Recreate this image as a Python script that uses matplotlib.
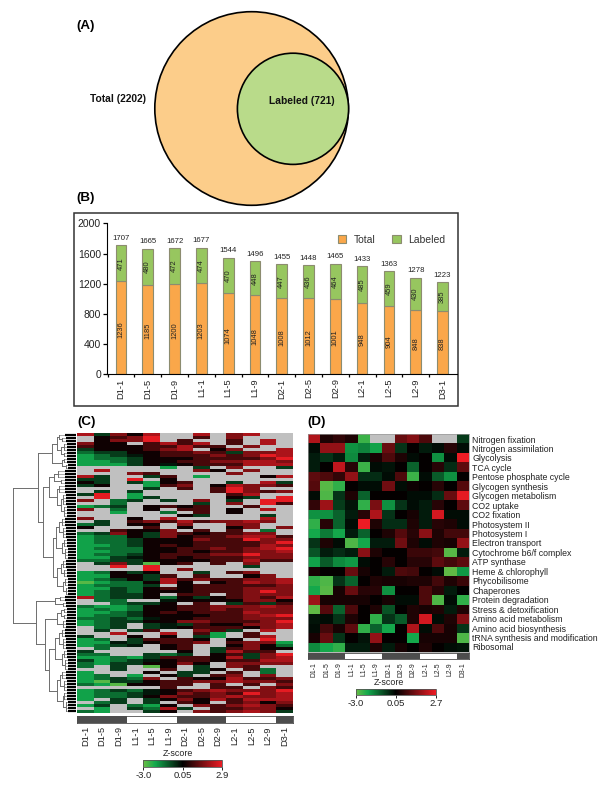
import numpy as np
import matplotlib
matplotlib.use('Agg')
import matplotlib.pyplot as plt
from matplotlib.cm import ScalarMappable
from matplotlib.colors import LinearSegmentedColormap, TwoSlopeNorm
from matplotlib.patches import Circle, Rectangle

plt.rcParams['font.family'] = ['Liberation Sans', 'DejaVu Sans']

W, H = 600, 800

samples = ['D1-1', 'D1-5', 'D1-9', 'L1-1', 'L1-5', 'L1-9', 'D2-1', 'D2-5', 'D2-9', 'L2-1', 'L2-5', 'L2-9', 'D3-1']
total = [1236, 1185, 1200, 1203, 1074, 1048, 1008, 1012, 1001, 948, 904, 848, 838]
labeled = [471, 480, 472, 474, 470, 448, 447, 436, 464, 485, 459, 430, 385]
bar_tops = [1707, 1665, 1672, 1677, 1544, 1496, 1455, 1448, 1465, 1433, 1363, 1278, 1223]

# light/dark blocks under the heatmaps
strip_groups = [3, 3, 3, 3, 1]

# panel D, z-scores by pathway, nan = grey cell
pathways = ['Nitrogen fixation', 'Nitrogen assimilation', 'Glycolysis', 'TCA cycle', 'Pentose phosphate cycle',
            'Glycogen synthesis', 'Glycogen metabolism', 'CO2 uptake', 'CO2 fixation', 'Photosystem II',
            'Photosystem I', 'Electron transport', 'Cytochrome b6/f complex', 'ATP synthase', 'Heme & chlorophyll',
            'Phycobilisome', 'Chaperones', 'Protein degradation', 'Stress & detoxification',
            'Amino acid metabolism', 'Amino acid biosynthesis', 'tRNA synthesis and modification', 'Ribosomal']
nan = np.nan
pathway_z = [
    [2.0, 0.4, 0.6, 0.4, -2.5, nan, nan, 1.2, 1.5, 0.9, nan, nan, -0.7],
    [-0.1, 1.7, 1.7, -1.8, -1.6, -2.0, 1.2, -0.6, 0.1, -0.3, -0.1, 0.5, -0.1],
    [-0.3, -0.6, -0.3, -1.7, -0.3, 0.3, 0.9, 0.4, -0.1, 0.1, -1.8, -0.1, 2.7],
    [-0.3, 0.1, 2.2, 0.5, -2.5, -0.1, -0.2, 0.1, -1.2, 0.1, 0.5, -0.5, 1.1],
    [1.1, 0.9, 0.6, 1.7, -0.5, -0.5, -0.1, 0.9, -2.5, -0.1, -1.1, -1.8, 0.1],
    [1.0, -2.8, -2.4, 0.1, -0.1, -0.1, 1.3, -0.1, 0.2, 0.1, 0.5, 0.1, 1.0],
    [-0.1, -2.7, -0.6, 0.4, -1.2, 0.1, 0.1, 0.1, -0.1, -0.1, -0.5, 1.2, 2.6],
    [0.6, 1.8, -0.7, -0.2, -2.4, 1.4, -1.8, -0.6, -0.1, -0.3, 0.5, 0.1, 1.1],
    [-1.8, -1.8, -1.2, -0.3, 0.5, 2.0, -0.6, 0.1, 0.3, -0.3, 2.4, -0.1, -0.1],
    [-2.4, 0.5, -1.2, -0.1, 2.7, 0.4, -0.5, -0.5, 0.4, -0.3, 0.5, 0.4, -0.1],
    [-2.1, -1.5, -2.1, -0.3, -1.2, 0.1, 0.4, 1.0, 0.5, 1.6, 0.4, 0.8, 0.8],
    [-0.6, 0.4, -0.1, -2.7, -2.1, -0.3, -0.3, 1.3, 0.4, -0.1, 0.4, 0.3, 1.7],
    [-1.0, -0.3, -0.5, -0.3, 1.6, 0.4, 0.1, 0.1, 0.7, 0.7, 0.8, -2.8, -0.3],
    [-2.0, -1.1, -1.7, -1.9, -0.1, 0.1, 0.5, 0.1, 0.5, 0.5, 1.1, 0.8, 1.1],
    [0.3, 0.1, 0.1, 1.2, 0.3, 0.1, -0.3, 0.9, 0.8, 0.1, -0.1, -2.9, -1.9],
    [-2.4, -2.7, -0.6, -1.2, 0.1, 0.4, 0.3, 0.3, 0.4, 0.4, 0.8, 0.4, 0.7],
    [-2.1, -2.8, 0.3, 1.2, 0.5, 0.5, -1.8, 0.1, 0.1, 0.9, 0.5, -0.3, 0.05],
    [1.8, 0.3, 0.3, 0.3, 0.3, 0.1, 0.3, -0.1, -0.1, 0.9, -2.7, -0.1, -2.4],
    [-2.9, 1.0, -1.2, 0.9, 0.1, 0.4, -1.0, 0.1, 0.4, 0.3, 0.4, -0.3, 0.4],
    [-0.2, -0.1, -0.6, 0.4, 0.1, -2.4, -0.6, -1.1, 0.4, 2.4, -0.1, 0.4, 1.5],
    [-0.1, 0.8, 0.3, 1.1, -2.4, -1.2, -2.1, 0.1, 2.0, -0.1, 0.9, 0.3, -0.6],
    [0.3, 1.2, -0.6, 0.1, -0.2, 1.7, 0.1, 0.1, -2.1, 0.3, 0.3, 0.3, -2.7],
    [-1.7, -2.1, -2.4, -0.3, -0.3, 0.4, -0.3, 0.3, 0.1, 0.4, 0.1, -0.1, -0.2],
]

# panel C, too many rows to keep as floats, one letter per cell
z_codes = {'L': -2.8, 'G': -2.0, 'g': -1.35, 'd': -0.7, 'e': -0.25, 'k': 0.25,
           'm': 0.9, 'n': 1.6, 'r': 2.1, 'R': 2.8, '.': nan}
protein_rows = [
    'rdnkr..r.nr..', '.kmnR..m.n...', '.knnR.m..m.r.', 'nkk.mrmr.m.r.', 'mkkkmmrmm.n..',
    'dkkkmnr.kn..r', 'gddkkmmnmdnnr', 'GgdekmmmnmnRr', 'GggdkkkmmmmnR', 'GGgdkkmmnnrrn',
    'GGGdkekmmmrrr', '.....G.d.n..d', '.r.....nk.n..', '...nm....n...', 'rd..dm.G...kr',
    'dd.R.k.......', 'kd.dGkm..d.rd', 'dk..Gmn.krnnm', '....d.m.mRn..', '.d.d....mRnmn',
    'dR.G.....mr..', '.R.Gd....kd.R', 'n.gd.d.n.d.RR', '..g....d.n.Rm', 'Ggd.kmkm..m..',
    'n.g.k.mm.k.r.', '..G..g.m.k...', '......kd...d.', 'n..k.r.....r.', '.d.mnmrmnnrn.',
    'gd.kk.n..nn..', 'k...m.k..kn.n', '..mkkn.m.m.g.', 'gdnkdnmkmmnn.', 'Gggkdnkmmnrrm',
    'GggdkkknmmRnn', 'GggdkkkmmmmnR', 'GGgdkmkmmmmrn', 'GgggkkmmnmnrR', 'GGggkkmkmmnnr',
    'GggdkmmmnnRnn', 'GGdekmkmmmnnn', 'ggddkkkkmmrmm', '.dndLkm.m.n..', '..R.R.....d..',
    '....R.n......', 'Ggkdk..d.mn..', 'GGkkdm.m..kn.', 'Ggdkdrmnmmnnr', 'LGggkrk.kmrnr',
    'Ggggd.kmmmmmn', 'GGdgkmkmmmnnn', 'GgdgkkkmmmnRn', 'Ggddk.mm.mnnn', 'rgddkgkdkmnmr',
    '.gg..ekkkknnk', '..gddk.m.dmdm', 'gGGgkkmmnnnrn', 'GgGgkkmmnmnnn', 'GGgdkmkmmmrnn',
    'GggdkkkkmmnrR', 'ggdgekkmmmnnn', 'GgddkknnmmmnR', 'Ggd.dedmkknnr', '.gd.dekmmmknr',
    '.d.dm..nmd.r.', '..r..r.mG.m..', 'd..k.k.dG.mr.', 'Gg.dmmmk.k.R.', 'GGedkmmn.mnnG',
    'Ggde.km..knkg', '.g...km.dmnkk', 'd.....k.drmm.', 'gg..dgd.kmdnR', 'GGgGdmmmkrdnr',
    'dGgdekmmkmmrr', 'gGddkknk.nnnn', 'g.d.Lk.d.nm..', '..d..m.dk.mg.', 'G...k.dd.m.g.',
    'Gg.G.kd.mn.n.', 'Ggdgn.mkkrmmn', 'GLddkmmnnrnnm', 'gGLkkmm.m.m.n', '.....m..mm.nm',
    'GgdgekmnrnnnR', 'GggdeknmnmRnr', 'Gggdknmmnrnnr', 'G.d.dknkrmrrr', '.gd.d.mk.mnkn',
    'Gd.gGk.nmnrnm', '.G.dgrd.mmnnk', 'gG..dk.nmnrnd',
]

# dendrogram of panel C: [distance, children...], an int is that many rows
dendro_a = [0.38, [0.30, [0.26, 1, [0.21, 1, 1]], [0.24, [0.19, 2, 1], [0.18, 1, 1]]],
            [0.22, [0.18, 1, 1], [0.16, 1, 1]]]
dendro_b = [0.43, [0.34, [0.28, 2, 1], [0.24, 1, 1]],
            [0.30, [0.27, 2, 1], [0.24, [0.20, 2, 2], [0.19, 2, 2]]]]
dendro_c = [0.31, [0.26, [0.22, 1, 2], [0.20, 2, 2]], [0.22, [0.18, 2, 1], [0.17, 2, 2]]]
dendro_d = [0.30, [0.24, [0.20, 1, 2], [0.18, 1, 2]], [0.20, [0.17, 2, 1], [0.16, 1, 2]]]
dendro_e1 = [0.33, [0.25, 1, 1], [0.20, 1, 1]]
dendro_e2 = [0.30, [0.24, [0.19, 1, 1], [0.18, 1, 1]], [0.20, 1, 2]]
dendro_f = [0.33, [0.27, [0.22, 1, 2], [0.20, 2, 2]], [0.22, [0.18, 2, 1], [0.17, 2, 2]]]
dendro_g = [0.30, [0.25, [0.21, 1, 2], [0.19, 2, 2]], [0.20, [0.18, 2, 1], [0.16, 2, 2]]]
dendro_tree = [1.0,
               [0.60, dendro_a, [0.52, dendro_b, [0.36, dendro_c, dendro_d]]],
               [0.63, dendro_e1, [0.49, dendro_e2, [0.43, dendro_f, dendro_g]]]]

c_ticks = [-3.0, 0.05, 2.9]
d_ticks = [-3.0, 0.05, 2.7]


def px_axes(x0, y0, x1, y1):
    # axes from picture pixels, y counted from the top
    return fig.add_axes([x0 / W, 1 - y1 / H, (x1 - x0) / W, (y1 - y0) / H])


def label_px(x, y, s, **kw):
    fig.text(x / W, 1 - y / H, s, va='center', **kw)


fig = plt.figure(figsize=(6, 8), dpi=100)

heat_cmap = LinearSegmentedColormap.from_list('gkr', [(0, '#6abd45'), (0.15, '#12a84c'), (0.5, '#000000'), (1, '#ed1c24')])
heat_cmap.set_bad('#c0c0c0')

# (A) venn
ax = px_axes(0, 0, W, 215)
ax.set_xlim(0, W)
ax.set_ylim(215, 0)
ax.axis('off')
ax.add_patch(Circle((251.6, 108.5), 96.8, fc='#fccd8a', ec='black', lw=1.2))
ax.add_patch(Circle((293, 108.8), 55.6, fc='#b9db8a', ec='black', lw=1.2))
label_px(89.5, 99, 'Total (2202)', fontweight='bold', fontsize=7.4, color='#111111')
label_px(269, 100.5, 'Labeled (721)', fontweight='bold', fontsize=7.4, color='#111111')
label_px(76.5, 25.5, '(A)', fontweight='bold', fontsize=9.6)
label_px(76.5, 198.5, '(B)', fontweight='bold', fontsize=9.6)

# (B) stacked bars
fig.add_artist(Rectangle((73.5 / W, 1 - 406 / H), 385 / W, 193 / H, transform=fig.transFigure,
                         fc='white', ec='#333333', lw=1.1, zorder=-1))
ax = px_axes(107.3, 223.3, 456.7, 374.3)
ax.patch.set_alpha(0)
xpos = np.arange(len(samples))
ax.bar(xpos, total, 0.4, color='#faa74a', edgecolor='#8c8c70', lw=0.8, label='Total')
ax.bar(xpos, labeled, 0.4, bottom=total, color='#97c65f', edgecolor='#8c8c70', lw=0.8, label='Labeled')
for i in xpos:
    ax.text(i, bar_tops[i] + 45, str(bar_tops[i]), ha='center', va='bottom', fontsize=5.6, color='#222222')
    ax.text(i, total[i] / 2 - 20, str(total[i]), ha='center', va='center', rotation=90, fontsize=5.4, color='#222222')
    ax.text(i, total[i] + labeled[i] / 2, str(labeled[i]), ha='center', va='center', rotation=90, fontsize=5.4, color='#222222')
ax.set_xlim(-0.51, 12.53)
ax.set_ylim(0, 2000)
ax.set_yticks(np.arange(0, 2001, 400))
ax.set_xticks(xpos - 0.5, minor=True)
ax.set_xticks(xpos)
ax.set_xticklabels(samples, rotation=90, fontsize=6.7, color='#222222')
ax.tick_params(axis='y', labelsize=7.5, length=3, width=0.9, pad=1.5, labelcolor='#222222')
ax.tick_params(axis='x', which='major', length=0, pad=3)
ax.tick_params(axis='x', which='minor', length=2.5, width=0.9)
for side in ['top', 'right']:
    ax.spines[side].set_visible(False)
ax.legend(loc='upper left', bbox_to_anchor=(0.644, 0.959), ncol=2, frameon=False, fontsize=7.5,
          handlelength=0.85, handleheight=0.85, handletextpad=0.7, columnspacing=1.6, borderpad=0, labelcolor='#333333')

label_px(77, 421.5, '(C)', fontweight='bold', fontsize=9.6)
label_px(307, 422.5, '(D)', fontweight='bold', fontsize=9.6)


def draw_strip(box):
    sax = px_axes(*box)
    left = 0
    for n, shade in zip(strip_groups, ['#4d4d4d', 'white', '#4d4d4d', 'white', '#4d4d4d']):
        sax.barh(0, n, left=left, height=1, color=shade, edgecolor='none')
        left += n
    sax.set_xlim(0, len(samples))
    sax.set_ylim(-0.5, 0.5)
    sax.set_yticks([])
    sax.set_xticks(np.arange(len(samples)) + 0.5)
    sax.tick_params(length=0)
    for sp in sax.spines.values():
        sp.set_color('#4d4d4d')
        sp.set_linewidth(0.6)
    return sax


def draw_scale(box, ticks, title_y, title_x):
    cax = px_axes(*box)
    norm = TwoSlopeNorm(vmin=ticks[0], vcenter=ticks[1], vmax=ticks[2])
    cb = fig.colorbar(ScalarMappable(norm=norm, cmap=heat_cmap), cax=cax, orientation='horizontal')
    cb.set_ticks(ticks)
    cb.set_ticklabels(['%.1f' % ticks[0], '%.2f' % ticks[1], '%.1f' % ticks[2]])
    cb.ax.tick_params(labelsize=6.8, length=2, width=0.6, pad=1, labelcolor='#222222')
    cb.outline.set_edgecolor('#555555')
    cb.outline.set_linewidth(0.6)
    label_px(title_x, title_y, 'Z-score', fontsize=6.4, ha='center', color='#222222')


# (C) protein heatmap
protein_z = np.array([[z_codes[c] for c in row] for row in protein_rows])
ax = px_axes(77.3, 433, 292.7, 712.7)
ax.imshow(protein_z, cmap=heat_cmap, norm=TwoSlopeNorm(vmin=-3.0, vcenter=0.05, vmax=2.9),
          aspect='auto', interpolation='nearest')
ax.axis('off')
sax = draw_strip((77.3, 715.7, 292.7, 722.7))
sax.set_xticklabels(samples, rotation=90, fontsize=6.7, color='#222222')
sax.tick_params(pad=2.4)
draw_scale((143.3, 760, 222.3, 766.7), c_ticks, 754, 178)

# dendrogram, leaves line up with the heatmap rows
dax = px_axes(13, 433, 75.5, 712.7)
dax.set_xlim(1.0, 0)
dax.set_ylim(len(protein_rows) - 0.5, -0.5)
dax.axis('off')
next_row = 0


def draw_node(node):
    global next_row
    dist = node[0]
    ys = []
    for child in node[1:]:
        if isinstance(child, int):
            for _ in range(child):
                fringe = min(dist * 0.75, 0.17)
                dax.plot([dist, fringe], [next_row, next_row], color='#888888', lw=0.5)
                dax.plot([fringe, 0], [next_row, next_row], color='black', lw=1.6, solid_capstyle='butt')
                ys.append(next_row)
                next_row += 1
        else:
            child_y = draw_node(child)
            dax.plot([dist, child[0]], [child_y, child_y], color='#6e6e6e', lw=0.7)
            ys.append(child_y)
    dax.plot([dist, dist], [min(ys), max(ys)], color='#6e6e6e', lw=0.7)
    return (min(ys) + max(ys)) / 2


draw_node(dendro_tree)

# (D) pathway heatmap
ax = px_axes(308.3, 434.3, 469, 651.7)
ax.imshow(np.array(pathway_z), cmap=heat_cmap, norm=TwoSlopeNorm(vmin=-3.0, vcenter=0.05, vmax=2.7),
          aspect='auto', interpolation='nearest')
ax.set_xticks([])
ax.yaxis.tick_right()
ax.set_yticks(np.arange(len(pathways)))
ax.set_yticklabels(pathways, fontsize=6.3, color='#222222')
ax.tick_params(axis='y', length=0, pad=2.5)
for sp in ax.spines.values():
    sp.set_color('#999999')
    sp.set_linewidth(0.5)
sax = draw_strip((308.3, 653.3, 469, 658.7))
sax.set_xticklabels(samples, rotation=90, fontsize=4.9, color='#222222')
sax.tick_params(pad=2.8)
draw_scale((355.7, 689.3, 435.7, 695), d_ticks, 682.5, 389)

fig.savefig('out.png', dpi=100)
